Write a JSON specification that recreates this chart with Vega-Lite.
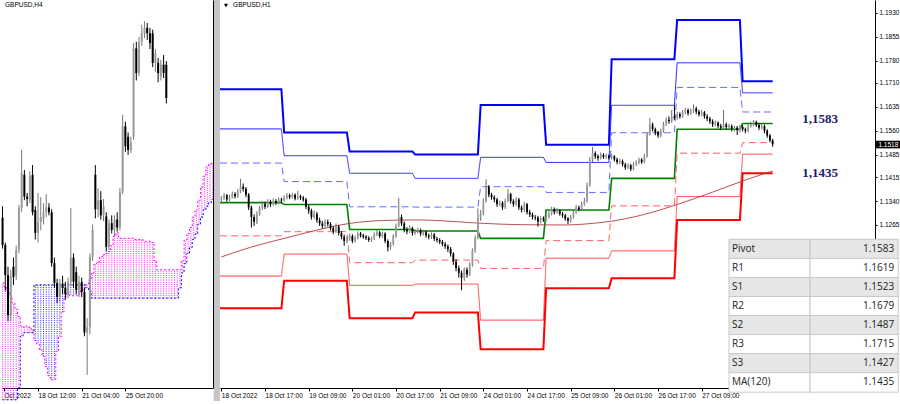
{
"$schema":"https://vega.github.io/schema/vega-lite/v6.json",
"padding":0,"spacing":7,"bounds":"flush","background":"white",
"config":{"view":{"stroke":null},"axis":{"labelFont":"Liberation Sans","labelFontSize":6.5,"labelColor":"#000","domainColor":"#000","tickColor":"#000","grid":false}},
"datasets":{
"one":[{}],
"h1":[
{"i":0,"o":1.1345,"h":1.1356,"l":1.1338,"c":1.1350},{"i":1,"o":1.1350,"h":1.1365,"l":1.1344,"c":1.1358},{"i":2,"o":1.1358,"h":1.1362,"l":1.1338,"c":1.1345},{"i":3,"o":1.1345,"h":1.1360,"l":1.1340,"c":1.1352},{"i":4,"o":1.1352,"h":1.1370,"l":1.1348,"c":1.1362},{"i":5,"o":1.1362,"h":1.1368,"l":1.1348,"c":1.1355},{"i":6,"o":1.1355,"h":1.1378,"l":1.1350,"c":1.1370},{"i":7,"o":1.1370,"h":1.1410,"l":1.1365,"c":1.1385},{"i":8,"o":1.1385,"h":1.1395,"l":1.1370,"c":1.1378},{"i":9,"o":1.1378,"h":1.1384,"l":1.1352,"c":1.1360},
{"i":10,"o":1.1360,"h":1.1365,"l":1.1312,"c":1.1320},{"i":11,"o":1.1320,"h":1.1326,"l":1.1257,"c":1.1290},{"i":12,"o":1.1290,"h":1.1298,"l":1.1262,"c":1.1275},{"i":13,"o":1.1275,"h":1.1308,"l":1.1268,"c":1.1300},{"i":14,"o":1.1300,"h":1.1325,"l":1.1294,"c":1.1318},{"i":15,"o":1.1318,"h":1.1340,"l":1.1312,"c":1.1330},{"i":16,"o":1.1330,"h":1.1338,"l":1.1315,"c":1.1322},{"i":17,"o":1.1322,"h":1.1346,"l":1.1318,"c":1.1338},{"i":18,"o":1.1338,"h":1.1344,"l":1.1322,"c":1.1330},{"i":19,"o":1.1330,"h":1.1348,"l":1.1325,"c":1.1340},
{"i":20,"o":1.1340,"h":1.1346,"l":1.1328,"c":1.1335},{"i":21,"o":1.1335,"h":1.1352,"l":1.1330,"c":1.1345},{"i":22,"o":1.1345,"h":1.1350,"l":1.1336,"c":1.1342},{"i":23,"o":1.1342,"h":1.1358,"l":1.1338,"c":1.1350},{"i":24,"o":1.1350,"h":1.1365,"l":1.1345,"c":1.1358},{"i":25,"o":1.1358,"h":1.1363,"l":1.1346,"c":1.1352},{"i":26,"o":1.1352,"h":1.1366,"l":1.1348,"c":1.1360},{"i":27,"o":1.1360,"h":1.1364,"l":1.1342,"c":1.1348},{"i":28,"o":1.1348,"h":1.1372,"l":1.1344,"c":1.1355},{"i":29,"o":1.1355,"h":1.1360,"l":1.1343,"c":1.1350},
{"i":30,"o":1.1350,"h":1.1356,"l":1.1338,"c":1.1345},{"i":31,"o":1.1345,"h":1.1350,"l":1.1315,"c":1.1322},{"i":32,"o":1.1322,"h":1.1328,"l":1.1300,"c":1.1310},{"i":33,"o":1.1310,"h":1.1316,"l":1.1282,"c":1.1290},{"i":34,"o":1.1290,"h":1.1310,"l":1.1284,"c":1.1300},{"i":35,"o":1.1300,"h":1.1306,"l":1.1272,"c":1.1280},{"i":36,"o":1.1280,"h":1.1288,"l":1.1262,"c":1.1270},{"i":37,"o":1.1270,"h":1.1278,"l":1.1254,"c":1.1262},{"i":38,"o":1.1262,"h":1.1283,"l":1.1256,"c":1.1275},{"i":39,"o":1.1275,"h":1.1282,"l":1.1260,"c":1.1268},
{"i":40,"o":1.1268,"h":1.1274,"l":1.1248,"c":1.1255},{"i":41,"o":1.1255,"h":1.1262,"l":1.1236,"c":1.1245},{"i":42,"o":1.1245,"h":1.1270,"l":1.1240,"c":1.1260},{"i":43,"o":1.1260,"h":1.1265,"l":1.1232,"c":1.1240},{"i":44,"o":1.1240,"h":1.1246,"l":1.1220,"c":1.1228},{"i":45,"o":1.1228,"h":1.1235,"l":1.1200,"c":1.1215},{"i":46,"o":1.1215,"h":1.1230,"l":1.1208,"c":1.1222},{"i":47,"o":1.1222,"h":1.1238,"l":1.1216,"c":1.1230},{"i":48,"o":1.1230,"h":1.1236,"l":1.1208,"c":1.1215},{"i":49,"o":1.1215,"h":1.1232,"l":1.1210,"c":1.1225},
{"i":50,"o":1.1225,"h":1.1245,"l":1.1220,"c":1.1238},{"i":51,"o":1.1238,"h":1.1243,"l":1.1226,"c":1.1232},{"i":52,"o":1.1232,"h":1.1238,"l":1.1222,"c":1.1228},{"i":53,"o":1.1228,"h":1.1233,"l":1.1218,"c":1.1224},{"i":54,"o":1.1224,"h":1.1230,"l":1.1212,"c":1.1218},{"i":55,"o":1.1218,"h":1.1228,"l":1.1212,"c":1.1222},{"i":56,"o":1.1222,"h":1.1242,"l":1.1218,"c":1.1235},{"i":57,"o":1.1235,"h":1.1250,"l":1.1230,"c":1.1242},{"i":58,"o":1.1242,"h":1.1246,"l":1.1224,"c":1.1230},{"i":59,"o":1.1230,"h":1.1244,"l":1.1225,"c":1.1238},
{"i":60,"o":1.1238,"h":1.1242,"l":1.1208,"c":1.1215},{"i":61,"o":1.1215,"h":1.1220,"l":1.1182,"c":1.1195},{"i":62,"o":1.1195,"h":1.1212,"l":1.1188,"c":1.1205},{"i":63,"o":1.1205,"h":1.1236,"l":1.1200,"c":1.1230},{"i":64,"o":1.1230,"h":1.1270,"l":1.1225,"c":1.1262},{"i":65,"o":1.1262,"h":1.1350,"l":1.1258,"c":1.1290},{"i":66,"o":1.1290,"h":1.1298,"l":1.1262,"c":1.1270},{"i":67,"o":1.1270,"h":1.1276,"l":1.1242,"c":1.1250},{"i":68,"o":1.1250,"h":1.1258,"l":1.1236,"c":1.1245},{"i":69,"o":1.1245,"h":1.1264,"l":1.1240,"c":1.1255},
{"i":70,"o":1.1255,"h":1.1260,"l":1.1232,"c":1.1240},{"i":71,"o":1.1240,"h":1.1252,"l":1.1234,"c":1.1245},{"i":72,"o":1.1245,"h":1.1256,"l":1.1238,"c":1.1248},{"i":73,"o":1.1248,"h":1.1254,"l":1.1230,"c":1.1238},{"i":74,"o":1.1238,"h":1.1250,"l":1.1232,"c":1.1242},{"i":75,"o":1.1242,"h":1.1247,"l":1.1225,"c":1.1232},{"i":76,"o":1.1232,"h":1.1238,"l":1.1220,"c":1.1228},{"i":77,"o":1.1228,"h":1.1242,"l":1.1222,"c":1.1235},{"i":78,"o":1.1235,"h":1.1240,"l":1.1215,"c":1.1222},{"i":79,"o":1.1222,"h":1.1228,"l":1.1210,"c":1.1218},
{"i":80,"o":1.1218,"h":1.1224,"l":1.1205,"c":1.1212},{"i":81,"o":1.1212,"h":1.1218,"l":1.1198,"c":1.1205},{"i":82,"o":1.1205,"h":1.1212,"l":1.1190,"c":1.1198},{"i":83,"o":1.1198,"h":1.1204,"l":1.1180,"c":1.1190},{"i":84,"o":1.1190,"h":1.1196,"l":1.1166,"c":1.1175},{"i":85,"o":1.1175,"h":1.1180,"l":1.1140,"c":1.1150},{"i":86,"o":1.1150,"h":1.1158,"l":1.1120,"c":1.1130},{"i":87,"o":1.1130,"h":1.1138,"l":1.1100,"c":1.1115},{"i":88,"o":1.1115,"h":1.1122,"l":1.1061,"c":1.1100},{"i":89,"o":1.1100,"h":1.1132,"l":1.1090,"c":1.1125},
{"i":90,"o":1.1125,"h":1.1132,"l":1.1100,"c":1.1110},{"i":91,"o":1.1110,"h":1.1148,"l":1.1105,"c":1.1140},{"i":92,"o":1.1140,"h":1.1192,"l":1.1135,"c":1.1185},{"i":93,"o":1.1185,"h":1.1232,"l":1.1178,"c":1.1225},{"i":94,"o":1.1225,"h":1.1317,"l":1.1220,"c":1.1290},{"i":95,"o":1.1290,"h":1.1312,"l":1.1278,"c":1.1300},{"i":96,"o":1.1300,"h":1.1348,"l":1.1295,"c":1.1340},{"i":97,"o":1.1340,"h":1.1408,"l":1.1335,"c":1.1385},{"i":98,"o":1.1385,"h":1.1390,"l":1.1352,"c":1.1360},{"i":99,"o":1.1360,"h":1.1366,"l":1.1344,"c":1.1352},
{"i":100,"o":1.1352,"h":1.1358,"l":1.1336,"c":1.1345},{"i":101,"o":1.1345,"h":1.1350,"l":1.1322,"c":1.1330},{"i":102,"o":1.1330,"h":1.1342,"l":1.1324,"c":1.1335},{"i":103,"o":1.1335,"h":1.1340,"l":1.1312,"c":1.1320},{"i":104,"o":1.1320,"h":1.1348,"l":1.1315,"c":1.1340},{"i":105,"o":1.1340,"h":1.1378,"l":1.1336,"c":1.1362},{"i":106,"o":1.1362,"h":1.1366,"l":1.1332,"c":1.1340},{"i":107,"o":1.1340,"h":1.1346,"l":1.1322,"c":1.1330},{"i":108,"o":1.1330,"h":1.1352,"l":1.1325,"c":1.1345},{"i":109,"o":1.1345,"h":1.1350,"l":1.1312,"c":1.1320},
{"i":110,"o":1.1320,"h":1.1326,"l":1.1304,"c":1.1312},{"i":111,"o":1.1312,"h":1.1337,"l":1.1306,"c":1.1330},{"i":112,"o":1.1330,"h":1.1334,"l":1.1298,"c":1.1305},{"i":113,"o":1.1305,"h":1.1312,"l":1.1290,"c":1.1298},{"i":114,"o":1.1298,"h":1.1304,"l":1.1282,"c":1.1290},{"i":115,"o":1.1290,"h":1.1296,"l":1.1280,"c":1.1288},{"i":116,"o":1.1288,"h":1.1294,"l":1.1260,"c":1.1275},{"i":117,"o":1.1275,"h":1.1292,"l":1.1270,"c":1.1286},{"i":118,"o":1.1286,"h":1.1292,"l":1.1275,"c":1.1282},{"i":119,"o":1.1282,"h":1.1298,"l":1.1276,"c":1.1290},
{"i":120,"o":1.1290,"h":1.1308,"l":1.1285,"c":1.1300},{"i":121,"o":1.1300,"h":1.1322,"l":1.1295,"c":1.1315},{"i":122,"o":1.1315,"h":1.1320,"l":1.1298,"c":1.1305},{"i":123,"o":1.1305,"h":1.1318,"l":1.1300,"c":1.1310},{"i":124,"o":1.1310,"h":1.1315,"l":1.1294,"c":1.1300},{"i":125,"o":1.1300,"h":1.1306,"l":1.1288,"c":1.1295},{"i":126,"o":1.1295,"h":1.1300,"l":1.1278,"c":1.1285},{"i":127,"o":1.1285,"h":1.1290,"l":1.1268,"c":1.1278},{"i":128,"o":1.1278,"h":1.1296,"l":1.1272,"c":1.1290},{"i":129,"o":1.1290,"h":1.1312,"l":1.1285,"c":1.1305},
{"i":130,"o":1.1305,"h":1.1328,"l":1.1300,"c":1.1320},{"i":131,"o":1.1320,"h":1.1326,"l":1.1308,"c":1.1315},{"i":132,"o":1.1315,"h":1.1338,"l":1.1310,"c":1.1330},{"i":133,"o":1.1330,"h":1.1350,"l":1.1325,"c":1.1340},{"i":134,"o":1.1340,"h":1.1398,"l":1.1335,"c":1.1390},{"i":135,"o":1.1390,"h":1.1478,"l":1.1385,"c":1.1470},{"i":136,"o":1.1470,"h":1.1510,"l":1.1462,"c":1.1490},{"i":137,"o":1.1490,"h":1.1496,"l":1.1472,"c":1.1480},{"i":138,"o":1.1480,"h":1.1486,"l":1.1466,"c":1.1475},{"i":139,"o":1.1475,"h":1.1492,"l":1.1470,"c":1.1485},
{"i":140,"o":1.1485,"h":1.1490,"l":1.1472,"c":1.1478},{"i":141,"o":1.1478,"h":1.1488,"l":1.1472,"c":1.1482},{"i":142,"o":1.1482,"h":1.1486,"l":1.1470,"c":1.1476},{"i":143,"o":1.1476,"h":1.1488,"l":1.1470,"c":1.1480},{"i":144,"o":1.1480,"h":1.1484,"l":1.1464,"c":1.1470},{"i":145,"o":1.1470,"h":1.1476,"l":1.1455,"c":1.1462},{"i":146,"o":1.1462,"h":1.1472,"l":1.1456,"c":1.1465},{"i":147,"o":1.1465,"h":1.1470,"l":1.1448,"c":1.1455},{"i":148,"o":1.1455,"h":1.1460,"l":1.1438,"c":1.1445},{"i":149,"o":1.1445,"h":1.1458,"l":1.1440,"c":1.1452},
{"i":150,"o":1.1452,"h":1.1456,"l":1.1434,"c":1.1440},{"i":151,"o":1.1440,"h":1.1462,"l":1.1436,"c":1.1455},{"i":152,"o":1.1455,"h":1.1468,"l":1.1450,"c":1.1460},{"i":153,"o":1.1460,"h":1.1476,"l":1.1455,"c":1.1470},{"i":154,"o":1.1470,"h":1.1474,"l":1.1456,"c":1.1462},{"i":155,"o":1.1462,"h":1.1488,"l":1.1458,"c":1.1480},{"i":156,"o":1.1480,"h":1.1556,"l":1.1476,"c":1.1550},{"i":157,"o":1.1550,"h":1.1600,"l":1.1545,"c":1.1580},{"i":158,"o":1.1580,"h":1.1586,"l":1.1558,"c":1.1565},{"i":159,"o":1.1565,"h":1.1570,"l":1.1546,"c":1.1555},
{"i":160,"o":1.1555,"h":1.1560,"l":1.1538,"c":1.1545},{"i":161,"o":1.1545,"h":1.1566,"l":1.1540,"c":1.1560},{"i":162,"o":1.1560,"h":1.1588,"l":1.1555,"c":1.1580},{"i":163,"o":1.1580,"h":1.1602,"l":1.1575,"c":1.1595},{"i":164,"o":1.1595,"h":1.1605,"l":1.1582,"c":1.1590},{"i":165,"o":1.1590,"h":1.1625,"l":1.1585,"c":1.1605},{"i":166,"o":1.1605,"h":1.1640,"l":1.1594,"c":1.1600},{"i":167,"o":1.1600,"h":1.1620,"l":1.1595,"c":1.1612},{"i":168,"o":1.1612,"h":1.1618,"l":1.1598,"c":1.1605},{"i":169,"o":1.1605,"h":1.1625,"l":1.1600,"c":1.1618},
{"i":170,"o":1.1618,"h":1.1632,"l":1.1612,"c":1.1625},{"i":171,"o":1.1625,"h":1.1630,"l":1.1608,"c":1.1615},{"i":172,"o":1.1615,"h":1.1630,"l":1.1610,"c":1.1622},{"i":173,"o":1.1622,"h":1.1643,"l":1.1616,"c":1.1630},{"i":174,"o":1.1630,"h":1.1636,"l":1.1612,"c":1.1620},{"i":175,"o":1.1620,"h":1.1626,"l":1.1605,"c":1.1612},{"i":176,"o":1.1612,"h":1.1625,"l":1.1606,"c":1.1618},{"i":177,"o":1.1618,"h":1.1622,"l":1.1598,"c":1.1605},{"i":178,"o":1.1605,"h":1.1612,"l":1.1590,"c":1.1598},{"i":179,"o":1.1598,"h":1.1604,"l":1.1582,"c":1.1590},
{"i":180,"o":1.1590,"h":1.1596,"l":1.1572,"c":1.1580},{"i":181,"o":1.1580,"h":1.1592,"l":1.1574,"c":1.1585},{"i":182,"o":1.1585,"h":1.1590,"l":1.1568,"c":1.1575},{"i":183,"o":1.1575,"h":1.1582,"l":1.1562,"c":1.1570},{"i":184,"o":1.1570,"h":1.1625,"l":1.1565,"c":1.1580},{"i":185,"o":1.1580,"h":1.1586,"l":1.1565,"c":1.1572},{"i":186,"o":1.1572,"h":1.1582,"l":1.1566,"c":1.1575},{"i":187,"o":1.1575,"h":1.1580,"l":1.1558,"c":1.1565},{"i":188,"o":1.1565,"h":1.1576,"l":1.1558,"c":1.1570},{"i":189,"o":1.1570,"h":1.1575,"l":1.1547,"c":1.1562},
{"i":190,"o":1.1562,"h":1.1578,"l":1.1555,"c":1.1572},{"i":191,"o":1.1572,"h":1.1578,"l":1.1558,"c":1.1565},{"i":192,"o":1.1565,"h":1.1570,"l":1.1552,"c":1.1560},{"i":193,"o":1.1560,"h":1.1582,"l":1.1555,"c":1.1575},{"i":194,"o":1.1575,"h":1.1588,"l":1.1570,"c":1.1580},{"i":195,"o":1.1580,"h":1.1594,"l":1.1575,"c":1.1588},{"i":196,"o":1.1588,"h":1.1592,"l":1.1572,"c":1.1578},{"i":197,"o":1.1578,"h":1.1584,"l":1.1562,"c":1.1570},{"i":198,"o":1.1570,"h":1.1582,"l":1.1565,"c":1.1575},{"i":199,"o":1.1575,"h":1.1580,"l":1.1552,"c":1.1560},
{"i":200,"o":1.1560,"h":1.1565,"l":1.1538,"c":1.1545},{"i":201,"o":1.1545,"h":1.1550,"l":1.1524,"c":1.1530},{"i":202,"o":1.1530,"h":1.1535,"l":1.1510,"c":1.1518}
],
"h4":[
{"j":3,"o":1.1321,"h":1.1340,"l":1.1270,"c":1.1276},{"j":4,"o":1.1276,"h":1.1280,"l":1.1200,"c":1.1226},{"j":5,"o":1.1226,"h":1.1240,"l":1.1150,"c":1.1160},{"j":6,"o":1.1160,"h":1.1235,"l":1.1150,"c":1.1225},{"j":7,"o":1.1240,"h":1.1255,"l":1.1210,"c":1.1223},{"j":8,"o":1.1226,"h":1.1275,"l":1.1218,"c":1.1268},{"j":9,"o":1.1268,"h":1.1342,"l":1.1262,"c":1.1337},{"j":10,"o":1.1337,"h":1.1433,"l":1.1330,"c":1.1395},{"j":11,"o":1.1392,"h":1.1400,"l":1.1350,"c":1.1356},{"j":12,"o":1.1356,"h":1.1362,"l":1.1340,"c":1.1352},
{"j":13,"o":1.1350,"h":1.1398,"l":1.1345,"c":1.1390},{"j":14,"o":1.1392,"h":1.1408,"l":1.1325,"c":1.1330},{"j":15,"o":1.1334,"h":1.1340,"l":1.1285,"c":1.1296},{"j":16,"o":1.1296,"h":1.1362,"l":1.1280,"c":1.1314},{"j":17,"o":1.1314,"h":1.1355,"l":1.1300,"c":1.1322},{"j":18,"o":1.1318,"h":1.1345,"l":1.1310,"c":1.1330},{"j":19,"o":1.1330,"h":1.1360,"l":1.1322,"c":1.1338},{"j":20,"o":1.1338,"h":1.1345,"l":1.1325,"c":1.1330},{"j":21,"o":1.1330,"h":1.1335,"l":1.1240,"c":1.1246},{"j":22,"o":1.1246,"h":1.1255,"l":1.1205,"c":1.1213},
{"j":23,"o":1.1213,"h":1.1220,"l":1.1180,"c":1.1190},{"j":24,"o":1.1190,"h":1.1220,"l":1.1182,"c":1.1212},{"j":25,"o":1.1212,"h":1.1225,"l":1.1195,"c":1.1205},{"j":26,"o":1.1205,"h":1.1215,"l":1.1185,"c":1.1195},{"j":27,"o":1.1195,"h":1.1222,"l":1.1188,"c":1.1215},{"j":28,"o":1.1215,"h":1.1337,"l":1.1208,"c":1.1255},{"j":29,"o":1.1255,"h":1.1262,"l":1.1205,"c":1.1215},{"j":30,"o":1.1231,"h":1.1240,"l":1.1195,"c":1.1202},{"j":31,"o":1.1202,"h":1.1225,"l":1.1190,"c":1.1215},{"j":32,"o":1.1215,"h":1.1222,"l":1.1190,"c":1.1198},
{"j":33,"o":1.1198,"h":1.1205,"l":1.1125,"c":1.1131},{"j":34,"o":1.1131,"h":1.1155,"l":1.1061,"c":1.1140},{"j":35,"o":1.1140,"h":1.1262,"l":1.1128,"c":1.1256},{"j":36,"o":1.1256,"h":1.1310,"l":1.1250,"c":1.1301},{"j":37,"o":1.1392,"h":1.1408,"l":1.1320,"c":1.1335},{"j":38,"o":1.1335,"h":1.1370,"l":1.1322,"c":1.1350},{"j":39,"o":1.1350,"h":1.1365,"l":1.1318,"c":1.1325},{"j":40,"o":1.1325,"h":1.1352,"l":1.1315,"c":1.1340},{"j":41,"o":1.1323,"h":1.1330,"l":1.1265,"c":1.1273},{"j":42,"o":1.1273,"h":1.1318,"l":1.1268,"c":1.1312},
{"j":43,"o":1.1312,"h":1.1325,"l":1.1295,"c":1.1301},{"j":44,"o":1.1301,"h":1.1325,"l":1.1290,"c":1.1318},{"j":45,"o":1.1318,"h":1.1330,"l":1.1298,"c":1.1305},{"j":46,"o":1.1305,"h":1.1370,"l":1.1300,"c":1.1364},{"j":47,"o":1.1364,"h":1.1491,"l":1.1360,"c":1.1472},{"j":48,"o":1.1472,"h":1.1480,"l":1.1430,"c":1.1439},{"j":49,"o":1.1455,"h":1.1462,"l":1.1425,"c":1.1433},{"j":50,"o":1.1433,"h":1.1455,"l":1.1428,"c":1.1445},{"j":51,"o":1.1455,"h":1.1610,"l":1.1450,"c":1.1601},{"j":52,"o":1.1601,"h":1.1612,"l":1.1548,"c":1.1560},
{"j":53,"o":1.1560,"h":1.1620,"l":1.1555,"c":1.1612},{"j":54,"o":1.1612,"h":1.1640,"l":1.1605,"c":1.1626},{"j":55,"o":1.1626,"h":1.1646,"l":1.1618,"c":1.1635},{"j":56,"o":1.1635,"h":1.1643,"l":1.1615,"c":1.1626},{"j":57,"o":1.1626,"h":1.1635,"l":1.1600,"c":1.1610},{"j":58,"o":1.1626,"h":1.1632,"l":1.1570,"c":1.1577},{"j":59,"o":1.1577,"h":1.1600,"l":1.1562,"c":1.1593},{"j":60,"o":1.1577,"h":1.1585,"l":1.1545,"c":1.1560},{"j":61,"o":1.1555,"h":1.1582,"l":1.1548,"c":1.1574},{"j":62,"o":1.1574,"h":1.1590,"l":1.1552,"c":1.1560},
{"j":63,"o":1.1574,"h":1.1580,"l":1.1510,"c":1.1519}
],
"cloud":[
{"j":3,"a":1.1020,"b":1.1213},{"j":4,"a":1.1020,"b":1.1207},{"j":5,"a":1.1020,"b":1.1200},{"j":6,"a":1.1020,"b":1.1192},{"j":7,"a":1.1020,"b":1.1180},{"j":8,"a":1.1020,"b":1.1170},{"j":9,"a":1.1040,"b":1.1158},{"j":10,"a":1.1125,"b":1.1142},{"j":11,"a":1.1131,"b":1.1140},{"j":12,"a":1.1131,"b":1.1142},
{"j":13,"a":1.1131,"b":1.1140},{"j":14,"a":1.1131,"b":1.1136},{"j":15,"a":1.1210,"b":1.1118},{"j":16,"a":1.1210,"b":1.1112},{"j":17,"a":1.1210,"b":1.1102},{"j":18,"a":1.1210,"b":1.1092},{"j":19,"a":1.1210,"b":1.1075},{"j":20,"a":1.1210,"b":1.1060},{"j":21,"a":1.1210,"b":1.1053},{"j":22,"a":1.1210,"b":1.1053},
{"j":23,"a":1.1210,"b":1.1100},{"j":24,"a":1.1210,"b":1.1124},{"j":25,"a":1.1210,"b":1.1165},{"j":26,"a":1.1210,"b":1.1190},{"j":27,"a":1.1210,"b":1.1198},{"j":28,"a":1.1210,"b":1.1192},{"j":29,"a":1.1210,"b":1.1192},{"j":30,"a":1.1210,"b":1.1192},{"j":31,"a":1.1210,"b":1.1195},{"j":32,"a":1.1210,"b":1.1200},
{"j":33,"a":1.1210,"b":1.1205},{"j":34,"a":1.1205,"b":1.1210},{"j":35,"a":1.1200,"b":1.1218},{"j":36,"a":1.1188,"b":1.1230},{"j":37,"a":1.1188,"b":1.1245},{"j":38,"a":1.1188,"b":1.1248},{"j":39,"a":1.1188,"b":1.1256},{"j":40,"a":1.1188,"b":1.1260},{"j":41,"a":1.1188,"b":1.1262},{"j":42,"a":1.1188,"b":1.1265},
{"j":43,"a":1.1188,"b":1.1275},{"j":44,"a":1.1188,"b":1.1290},{"j":45,"a":1.1188,"b":1.1296},{"j":46,"a":1.1188,"b":1.1287},{"j":47,"a":1.1188,"b":1.1287},{"j":48,"a":1.1188,"b":1.1287},{"j":49,"a":1.1188,"b":1.1287},{"j":50,"a":1.1188,"b":1.1287},{"j":51,"a":1.1188,"b":1.1287},{"j":52,"a":1.1188,"b":1.1285},
{"j":53,"a":1.1188,"b":1.1285},{"j":54,"a":1.1188,"b":1.1285},{"j":55,"a":1.1188,"b":1.1282},{"j":56,"a":1.1188,"b":1.1282},{"j":57,"a":1.1188,"b":1.1282},{"j":58,"a":1.1188,"b":1.1280},{"j":59,"a":1.1188,"b":1.1250},{"j":60,"a":1.1188,"b":1.1235},{"j":61,"a":1.1188,"b":1.1235},{"j":62,"a":1.1188,"b":1.1235},
{"j":63,"a":1.1188,"b":1.1235},{"j":64,"a":1.1188,"b":1.1235},{"j":65,"a":1.1188,"b":1.1235},{"j":66,"a":1.1188,"b":1.1235},{"j":67,"a":1.1188,"b":1.1235},{"j":68,"a":1.1205,"b":1.1235},{"j":69,"a":1.1230,"b":1.1250},{"j":70,"a":1.1245,"b":1.1284},{"j":71,"a":1.1262,"b":1.1295},{"j":72,"a":1.1272,"b":1.1305},
{"j":73,"a":1.1285,"b":1.1322},{"j":74,"a":1.1294,"b":1.1334},{"j":75,"a":1.1310,"b":1.1350},{"j":76,"a":1.1322,"b":1.1372},{"j":77,"a":1.1334,"b":1.1390},{"j":78,"a":1.1340,"b":1.1405},{"j":79,"a":1.1346,"b":1.1410},{"j":80,"a":1.1351,"b":1.1412}
],
"lvl":[
{"i":-0.5,"R3":1.1690,"R2":1.1566,"R1":1.1459,"P":1.1335,"S1":1.1231,"S2":1.1105,"S3":1.1004},
{"i":22,"R3":1.1690,"R2":1.1566,"R1":1.1459,"P":1.1335,"S1":1.1231,"S2":1.1105,"S3":1.1004},
{"i":23,"R3":1.1555,"R2":1.1482,"R1":1.1401,"P":1.1329,"S1":1.1244,"S2":1.1174,"S3":1.1090},
{"i":46,"R3":1.1555,"R2":1.1482,"R1":1.1401,"P":1.1329,"S1":1.1244,"S2":1.1174,"S3":1.1090},
{"i":47,"R3":1.1495,"R2":1.1427,"R1":1.1322,"P":1.1251,"S1":1.1147,"S2":1.1076,"S3":1.0973},
{"i":70,"R3":1.1495,"R2":1.1427,"R1":1.1322,"P":1.1251,"S1":1.1147,"S2":1.1076,"S3":1.0973},
{"i":71,"R3":1.1486,"R2":1.1411,"R1":1.1321,"P":1.1246,"S1":1.1155,"S2":1.1080,"S3":1.0991},
{"i":94,"R3":1.1486,"R2":1.1411,"R1":1.1321,"P":1.1246,"S1":1.1155,"S2":1.1080,"S3":1.0991},
{"i":95,"R3":1.1641,"R2":1.1477,"R1":1.1385,"P":1.1223,"S1":1.1129,"S2":1.0967,"S3":1.0876},
{"i":118,"R3":1.1641,"R2":1.1477,"R1":1.1385,"P":1.1223,"S1":1.1129,"S2":1.0967,"S3":1.0876},
{"i":119,"R3":1.1516,"R2":1.1461,"R1":1.1367,"P":1.1312,"S1":1.1216,"S2":1.1161,"S3":1.1067},
{"i":142,"R3":1.1516,"R2":1.1461,"R1":1.1367,"P":1.1312,"S1":1.1216,"S2":1.1161,"S3":1.1067},
{"i":143,"R3":1.1784,"R2":1.1640,"R1":1.1554,"P":1.1411,"S1":1.1325,"S2":1.1184,"S3":1.1098},
{"i":166,"R3":1.1784,"R2":1.1640,"R1":1.1554,"P":1.1411,"S1":1.1325,"S2":1.1184,"S3":1.1098},
{"i":167,"R3":1.1907,"R2":1.1773,"R1":1.1696,"P":1.1565,"S1":1.1490,"S2":1.1354,"S3":1.1281},
{"i":190,"R3":1.1907,"R2":1.1773,"R1":1.1696,"P":1.1565,"S1":1.1490,"S2":1.1354,"S3":1.1281},
{"i":191,"R3":1.1715,"R2":1.1679,"R1":1.1619,"P":1.1583,"S1":1.1523,"S2":1.1487,"S3":1.1427},
{"i":202,"R3":1.1715,"R2":1.1679,"R1":1.1619,"P":1.1583,"S1":1.1523,"S2":1.1487,"S3":1.1427}
],
"ma":[
{"i":0,"v":1.1165},{"i":11,"v":1.1196},{"i":23,"v":1.1223},{"i":35,"v":1.1249},{"i":47,"v":1.1270},{"i":59,"v":1.1279},{"i":72,"v":1.1281},{"i":85,"v":1.1276},{"i":96,"v":1.1270},{"i":110,"v":1.1266},{"i":125,"v":1.1265},{"i":136,"v":1.1270},{"i":143,"v":1.1277},{"i":154,"v":1.1296},{"i":168,"v":1.1332},{"i":180,"v":1.1368},{"i":192,"v":1.1406},{"i":202,"v":1.1434}
],
"tbl":[
{"k":0,"name":"Pivot","val":"1.1583"},{"k":1,"name":"R1","val":"1.1619"},{"k":2,"name":"S1","val":"1.1523"},{"k":3,"name":"R2","val":"1.1679"},{"k":4,"name":"S2","val":"1.1487"},{"k":5,"name":"R3","val":"1.1715"},{"k":6,"name":"S3","val":"1.1427"},{"k":7,"name":"MA(120)","val":"1.1435"}
]
},
"hconcat":[
{
"width":211,"height":388,
"layer":[
{"data":{"name":"cloud"},"transform":[{"filter":"datum.a > datum.b"}],
 "mark":{"type":"rule","color":"#2828ff","strokeDash":[1,1.2],"strokeWidth":1},
 "encoding":{"x":{"field":"j","type":"quantitative","title":null,"scale":{"domain":[2.8,80.1],"nice":false,"zero":false},
   "axis":{"values":[3.5,16,32,48],"labelExpr":"datum.value < 10 ? 'Oct 2022' : datum.value == 16 ? '18 Oct 12:00' : datum.value == 32 ? '21 Oct 04:00' : '25 Oct 20:00'","labelAlign":"left","labelPadding":1,"tickSize":3,"labelOverlap":false,"labelFlush":false,"title":null}},
  "y":{"field":"a","type":"quantitative","title":null,"scale":{"domain":[1.10395,1.1681],"nice":false,"zero":false},"axis":{"orient":"right","labels":false,"ticks":false,"title":null,"zindex":1}},
  "y2":{"field":"b"}}},
{"data":{"name":"cloud"},"transform":[{"filter":"datum.a <= datum.b"}],
 "mark":{"type":"rule","color":"#ff20ff","strokeDash":[1,1.2],"strokeWidth":1},
 "encoding":{"x":{"field":"j","type":"quantitative","title":null,"scale":{"domain":[2.8,80.1],"nice":false,"zero":false}},
  "y":{"field":"a","type":"quantitative","title":null,"scale":{"domain":[1.10395,1.1681],"nice":false,"zero":false}},
  "y2":{"field":"b"}}},
{"data":{"name":"cloud"},"mark":{"type":"line","color":"#0000ff","strokeDash":[2,2],"strokeWidth":1,"interpolate":"step"},
 "encoding":{"x":{"field":"j","type":"quantitative","title":null,"scale":{"domain":[2.8,80.1],"nice":false,"zero":false}},
  "y":{"field":"a","type":"quantitative","title":null,"scale":{"domain":[1.10395,1.1681],"nice":false,"zero":false}}}},
{"data":{"name":"cloud"},"mark":{"type":"line","color":"#ff00ff","strokeDash":[2,2],"strokeWidth":1,"interpolate":"step"},
 "encoding":{"x":{"field":"j","type":"quantitative","title":null,"scale":{"domain":[2.8,80.1],"nice":false,"zero":false}},
  "y":{"field":"b","type":"quantitative","title":null,"scale":{"domain":[1.10395,1.1681],"nice":false,"zero":false}}}},
{"data":{"name":"h4"},"mark":{"type":"rule","strokeWidth":1},
 "encoding":{"x":{"field":"j","type":"quantitative","title":null,"scale":{"domain":[2.8,80.1],"nice":false,"zero":false}},
  "y":{"field":"l","type":"quantitative","title":null,"scale":{"domain":[1.10395,1.1681],"nice":false,"zero":false}},
  "y2":{"field":"h"},
  "color":{"condition":{"test":"datum.c >= datum.o","value":"#7a7a7a"},"value":"#000000"}}},
{"data":{"name":"h4"},"mark":{"type":"rule","strokeWidth":2},
 "encoding":{"x":{"field":"j","type":"quantitative","title":null,"scale":{"domain":[2.8,80.1],"nice":false,"zero":false}},
  "y":{"field":"o","type":"quantitative","title":null,"scale":{"domain":[1.10395,1.1681],"nice":false,"zero":false}},
  "y2":{"field":"c"},
  "color":{"condition":{"test":"datum.c >= datum.o","value":"#9a9a9a"},"value":"#000000"}}},
{"data":{"name":"one"},"mark":{"type":"text","text":"GBPUSD,H4","font":"Liberation Sans","fontSize":6.5,"align":"left","baseline":"middle","color":"#000"},
 "encoding":{"x":{"datum":3.9,"type":"quantitative","title":null,"scale":{"domain":[2.8,80.1],"nice":false,"zero":false}},
  "y":{"datum":1.16723,"type":"quantitative","title":null,"scale":{"domain":[1.10395,1.1681],"nice":false,"zero":false}}}},
{"data":{"name":"one"},"mark":{"type":"rect","color":"#c6c6c6"},
 "encoding":{"x":{"datum":80.35,"type":"quantitative","title":null,"scale":{"domain":[2.8,80.1],"nice":false,"zero":false}},"x2":{"datum":82.65},
  "y":{"datum":1.1681,"type":"quantitative","title":null,"scale":{"domain":[1.10395,1.1681],"nice":false,"zero":false}},"y2":{"datum":1.1018}}}
]
},
{
"width":655,"height":388,
"resolve":{"scale":{"y":"independent"}},
"layer":[
{"layer":[
{"data":{"name":"lvl"},"transform":[{"fold":["R3","R2","R1","P","S1","S2","S3"],"as":["lv","v"]}],
 "mark":{"type":"line"},
 "encoding":{"x":{"field":"i","type":"quantitative","title":null,"scale":{"domain":[-0.5,239.5],"nice":false,"zero":false},
   "axis":{"values":[0,16,32,48,64,80,96,112,128,144,160,176],"labelExpr":"['18 Oct 2022','18 Oct 17:00','19 Oct 09:00','20 Oct 01:00','20 Oct 17:00','21 Oct 09:00','24 Oct 01:00','24 Oct 17:00','25 Oct 09:00','26 Oct 01:00','26 Oct 17:00','27 Oct 09:00'][round(datum.value/16)]","labelAlign":"left","labelPadding":1,"tickSize":3,"labelOverlap":false,"labelFlush":false,"title":null}},
  "y":{"field":"v","type":"quantitative","title":null,"scale":{"domain":[1.07544,1.19698],"nice":false,"zero":false},
   "axis":{"orient":"right","values":[1.1265,1.134,1.1415,1.1485,1.156,1.1635,1.171,1.178,1.1855,1.193],"format":".4f","tickSize":2,"labelPadding":2,"title":null}},
  "detail":{"field":"lv"},
  "color":{"field":"lv","type":"nominal","legend":null,"scale":{"domain":["R3","R2","R1","P","S1","S2","S3"],"range":["#0000ff","#2020ff","#6a6aff","#008000","#ff6060","#ff4040","#ff0000"]}},
  "strokeWidth":{"condition":[{"test":"datum.lv == 'R3' || datum.lv == 'S3'","value":2},{"test":"datum.lv == 'P'","value":1.6}],"value":1},
  "strokeDash":{"field":"lv","type":"nominal","legend":null,"scale":{"domain":["R3","R2","R1","P","S1","S2","S3"],"range":[[1,0],[1,0],[7,4],[1,0],[7,4],[1,0],[1,0]]}}}},
{"data":{"name":"ma"},"mark":{"type":"line","color":"#b03030","strokeWidth":1,"opacity":0.85,"interpolate":"monotone"},
 "encoding":{"x":{"field":"i","type":"quantitative","title":null,"scale":{"domain":[-0.5,239.5],"nice":false,"zero":false}},
  "y":{"field":"v","type":"quantitative","title":null,"scale":{"domain":[1.07544,1.19698],"nice":false,"zero":false}}}},
{"data":{"name":"h1"},"mark":{"type":"rule","strokeWidth":1},
 "encoding":{"x":{"field":"i","type":"quantitative","title":null,"scale":{"domain":[-0.5,239.5],"nice":false,"zero":false}},
  "y":{"field":"l","type":"quantitative","title":null,"scale":{"domain":[1.07544,1.19698],"nice":false,"zero":false}},
  "y2":{"field":"h"},
  "color":{"condition":{"test":"datum.c >= datum.o","value":"#6e6e6e"},"value":"#000000"}}},
{"data":{"name":"h1"},"mark":{"type":"rule","strokeWidth":1.8},
 "encoding":{"x":{"field":"i","type":"quantitative","title":null,"scale":{"domain":[-0.5,239.5],"nice":false,"zero":false}},
  "y":{"field":"o","type":"quantitative","title":null,"scale":{"domain":[1.07544,1.19698],"nice":false,"zero":false}},
  "y2":{"field":"c"},
  "color":{"condition":{"test":"datum.c >= datum.o","value":"#9a9a9a"},"value":"#000000"}}},
{"data":{"name":"one"},"mark":{"type":"text","text":"1,1583","font":"Liberation Serif","fontWeight":"bold","fontSize":13,"align":"left","baseline":"alphabetic","color":"#1a1a6e"},
 "encoding":{"x":{"datum":212.8,"type":"quantitative","title":null,"scale":{"domain":[-0.5,239.5],"nice":false,"zero":false}},
  "y":{"datum":1.1583,"type":"quantitative","title":null,"scale":{"domain":[1.07544,1.19698],"nice":false,"zero":false}}}},
{"data":{"name":"one"},"mark":{"type":"text","text":"1,1435","font":"Liberation Serif","fontWeight":"bold","fontSize":13,"align":"left","baseline":"alphabetic","dy":6,"color":"#1a1a6e"},
 "encoding":{"x":{"datum":212.8,"type":"quantitative","title":null,"scale":{"domain":[-0.5,239.5],"nice":false,"zero":false}},
  "y":{"datum":1.1435,"type":"quantitative","title":null,"scale":{"domain":[1.07544,1.19698],"nice":false,"zero":false}}}},
{"data":{"name":"one"},"mark":{"type":"text","text":"▼","font":"DejaVu Sans","fontSize":5,"align":"left","baseline":"middle","color":"#000"},
 "encoding":{"x":{"datum":0.97,"type":"quantitative","title":null,"scale":{"domain":[-0.5,239.5],"nice":false,"zero":false}},
  "y":{"datum":1.1953,"type":"quantitative","title":null,"scale":{"domain":[1.07544,1.19698],"nice":false,"zero":false}}}},
{"data":{"name":"one"},"mark":{"type":"text","text":"GBPUSD,H1","font":"Liberation Sans","fontSize":6.5,"align":"left","baseline":"middle","color":"#000"},
 "encoding":{"x":{"datum":4.3,"type":"quantitative","title":null,"scale":{"domain":[-0.5,239.5],"nice":false,"zero":false}},
  "y":{"datum":1.1953,"type":"quantitative","title":null,"scale":{"domain":[1.07544,1.19698],"nice":false,"zero":false}}}},
{"data":{"name":"one"},"mark":{"type":"rect","color":"#000000"},
 "encoding":{"x":{"datum":239.9,"type":"quantitative","title":null,"scale":{"domain":[-0.5,239.5],"nice":false,"zero":false}},"x2":{"datum":248.9},
  "y":{"datum":1.1529,"type":"quantitative","title":null,"scale":{"domain":[1.07544,1.19698],"nice":false,"zero":false}},"y2":{"datum":1.1505}}},
{"data":{"name":"one"},"mark":{"type":"text","text":"1.1518","font":"Liberation Sans","fontSize":6.5,"align":"center","baseline":"middle","color":"#ffffff"},
 "encoding":{"x":{"datum":244.4,"type":"quantitative","title":null,"scale":{"domain":[-0.5,239.5],"nice":false,"zero":false}},
  "y":{"datum":1.1517,"type":"quantitative","title":null,"scale":{"domain":[1.07544,1.19698],"nice":false,"zero":false}}}}
]},
{"layer":[
{"data":{"name":"tbl"},"mark":{"type":"bar","orient":"horizontal","size":19.5,"stroke":"#c8c8c8","strokeWidth":1},
 "encoding":{"y":{"field":"k","type":"quantitative","axis":null,"scale":{"domain":[-12.81,7.03],"reverse":true,"nice":false,"zero":false}},
  "x":{"datum":186,"type":"quantitative","title":null,"scale":{"domain":[-0.5,239.5],"nice":false,"zero":false}},"x2":{"datum":215.7},
  "fill":{"condition":{"test":"datum.k % 2 == 0","value":"#e6e6e6"},"value":"#ffffff"}}},
{"data":{"name":"tbl"},"mark":{"type":"bar","orient":"horizontal","size":19.5,"stroke":"#c8c8c8","strokeWidth":1},
 "encoding":{"y":{"field":"k","type":"quantitative","axis":null,"scale":{"domain":[-12.81,7.03],"reverse":true,"nice":false,"zero":false}},
  "x":{"datum":215.7,"type":"quantitative","title":null,"scale":{"domain":[-0.5,239.5],"nice":false,"zero":false}},"x2":{"datum":248},
  "fill":{"condition":{"test":"datum.k % 2 == 0","value":"#e6e6e6"},"value":"#ffffff"}}},
{"data":{"name":"tbl"},"mark":{"type":"text","font":"Open Sans","fontSize":10,"align":"left","baseline":"middle","dx":3,"color":"#222222"},
 "encoding":{"y":{"field":"k","type":"quantitative","axis":null,"scale":{"domain":[-12.81,7.03],"reverse":true,"nice":false,"zero":false}},
  "x":{"datum":186,"type":"quantitative","title":null,"scale":{"domain":[-0.5,239.5],"nice":false,"zero":false}},
  "text":{"field":"name"}}},
{"data":{"name":"tbl"},"mark":{"type":"text","font":"Open Sans","fontSize":10,"align":"right","baseline":"middle","dx":-4,"color":"#222222"},
 "encoding":{"y":{"field":"k","type":"quantitative","axis":null,"scale":{"domain":[-12.81,7.03],"reverse":true,"nice":false,"zero":false}},
  "x":{"datum":248,"type":"quantitative","title":null,"scale":{"domain":[-0.5,239.5],"nice":false,"zero":false}},
  "text":{"field":"val"}}}
]}
]
}
]
}
